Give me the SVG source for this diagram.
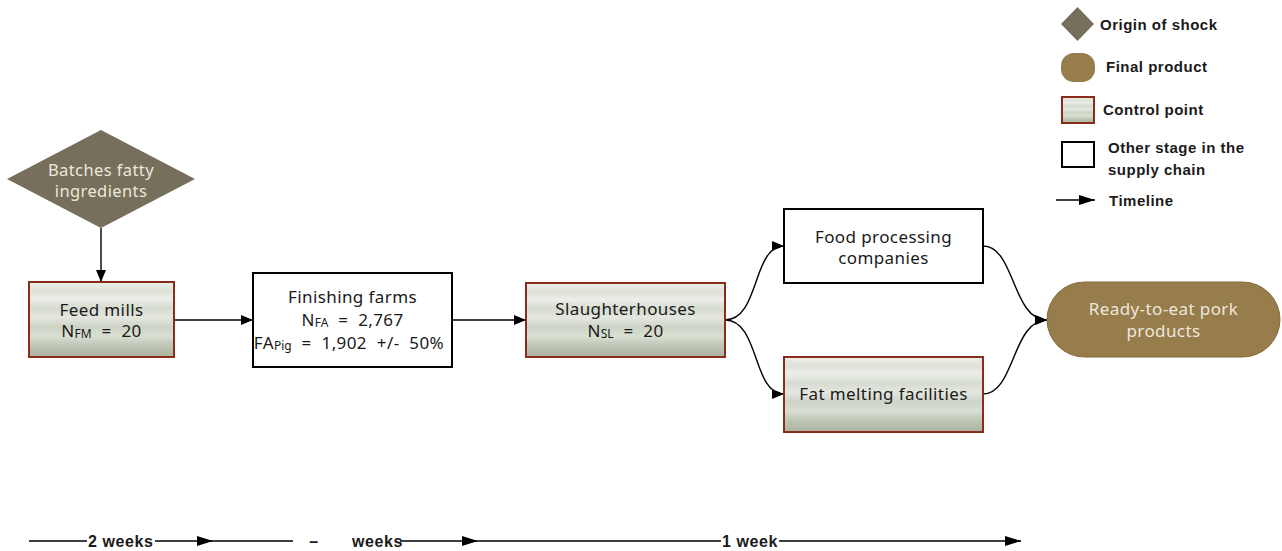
<svg xmlns="http://www.w3.org/2000/svg" width="1282" height="551" viewBox="0 0 1282 551">
<defs>
<linearGradient id="cp" x1="0" y1="0" x2="0" y2="1">
<stop offset="0" stop-color="#eef0ea"/>
<stop offset="0.12" stop-color="#dde1d7"/>
<stop offset="0.22" stop-color="#eceee8"/>
<stop offset="0.35" stop-color="#d6dbd0"/>
<stop offset="0.47" stop-color="#e4e7df"/>
<stop offset="0.6" stop-color="#cdd3c5"/>
<stop offset="0.72" stop-color="#dadfd3"/>
<stop offset="0.85" stop-color="#bec5b4"/>
<stop offset="1" stop-color="#aab2a0"/>
</linearGradient>
<marker id="ah" viewBox="0 0 12 10" refX="12" refY="5" markerWidth="12" markerHeight="10" markerUnits="userSpaceOnUse" orient="auto">
<path d="M0,0 L12,5 L0,10 Z" fill="#000"/>
</marker>
<marker id="ahs" viewBox="0 0 16 10" refX="16" refY="5" markerWidth="16" markerHeight="10" markerUnits="userSpaceOnUse" orient="auto">
<path d="M0,0 L16,5 L0,10 Z" fill="#000"/>
</marker>
</defs>
<style>
.node{font-family:"Noto Sans","Open Sans",sans-serif;font-size:17px;letter-spacing:0.4px;text-anchor:middle;fill:#1a1a1a}
.eq{word-spacing:5px}
.light{fill:#ece8dc}
.sub{font-size:12px;letter-spacing:0}
.cp{fill:url(#cp);stroke:#8a2c1c;stroke-width:2}
.other{fill:#fff;stroke:#000;stroke-width:2}
.shock{fill:#766f5b}
.prod{fill:#977c4c;stroke:#85693b;stroke-width:1}
.conn{fill:none;stroke:#000;stroke-width:1.4}
.leg{font-family:"Liberation Sans",Arial,sans-serif;font-weight:bold;font-size:15px;letter-spacing:0.5px;fill:#1a1a1a}
.tl{font-family:"Liberation Sans",Arial,sans-serif;font-weight:bold;font-size:16px;letter-spacing:0.6px;fill:#1a1a1a}
</style>
<rect width="1282" height="551" fill="#fff"/>

<g id="connectors">
<path class="conn" d="M101,228 L101,282" marker-end="url(#ah)"/>
<path class="conn" d="M174,320 L253,320" marker-end="url(#ah)"/>
<path class="conn" d="M452,320 L526,320" marker-end="url(#ah)"/>
<path class="conn" d="M725,320 C760,320 752,246 784,246" marker-end="url(#ah)"/>
<path class="conn" d="M725,320 C760,320 752,394 784,394" marker-end="url(#ah)"/>
<path class="conn" d="M983,246 C1015,246 1012,320 1047,320" marker-end="url(#ah)"/>
<path class="conn" d="M983,394 C1015,394 1012,320 1047,320" marker-end="url(#ah)"/>
</g>

<g id="batches">
<polygon class="shock" points="101,130 195,179 101,228 7,179"/>
<text class="node light" x="101" y="176" style="font-size:16.5px">Batches fatty</text>
<text class="node light" x="101" y="197" style="font-size:16.5px">ingredients</text>
</g>

<g id="feed-mills">
<rect class="cp" x="29" y="282" width="145" height="75"/>
<text class="node" x="101.5" y="316">Feed mills</text>
<text class="node eq" x="101.5" y="337">N<tspan class="sub" dy="1">FM</tspan><tspan dy="-1"> = 20</tspan></text>
</g>

<g id="finishing-farms">
<rect class="other" x="253" y="273" width="199" height="94"/>
<text class="node" x="352.5" y="303">Finishing farms</text>
<text class="node eq" x="352.5" y="326">N<tspan class="sub" dy="1">FA</tspan><tspan dy="-1"> = 2,767</tspan></text>
<text class="node eq" x="349" y="349">FA<tspan class="sub" dy="1">Pig</tspan><tspan dy="-1"> = 1,902 +/- 50%</tspan></text>
</g>

<g id="slaughterhouses">
<rect class="cp" x="526" y="283" width="199" height="74"/>
<text class="node" x="625.5" y="315">Slaughterhouses</text>
<text class="node eq" x="625.5" y="337">N<tspan class="sub" dy="1">SL</tspan><tspan dy="-1"> = 20</tspan></text>
</g>

<g id="food-processing">
<rect class="other" x="784" y="209" width="199" height="74"/>
<text class="node" x="883.5" y="243">Food processing</text>
<text class="node" x="883.5" y="264">companies</text>
</g>

<g id="fat-melting">
<rect class="cp" x="784" y="357" width="199" height="75"/>
<text class="node" x="883.5" y="400">Fat melting facilities</text>
</g>

<g id="ready-to-eat">
<rect class="prod" x="1047" y="282" width="233" height="75" rx="37.5" ry="37.5"/>
<text class="node light" x="1163.5" y="315">Ready-to-eat pork</text>
<text class="node light" x="1163.5" y="337">products</text>
</g>

<g id="legend">
<polygon class="shock" points="1077.5,7 1094,24 1077.5,41 1061,24"/>
<text class="leg" x="1100" y="30">Origin of shock</text>
<rect x="1061" y="53" width="34" height="29" rx="13" ry="13" fill="#977c4c"/>
<text class="leg" x="1106" y="72">Final product</text>
<rect class="cp" x="1062" y="97" width="32" height="26"/>
<text class="leg" x="1103" y="115">Control point</text>
<rect class="other" x="1062" y="142" width="32" height="25"/>
<text class="leg" x="1108" y="153">Other stage in the</text>
<text class="leg" x="1108" y="175">supply chain</text>
<path class="conn" d="M1056,200 L1095,200" marker-end="url(#ahs)"/>
<text class="leg" x="1109" y="206">Timeline</text>
</g>

<g id="timeline">
<path class="conn" d="M29,541 L87,541"/>
<text class="tl" x="88" y="547">2 weeks</text>
<path class="conn" d="M155,541 L213,541" marker-end="url(#ahs)"/>
<path class="conn" d="M213,541 L293,541"/>
<text class="tl" x="314" y="547" text-anchor="middle">–</text>
<text class="tl" x="352" y="547">weeks</text>
<path class="conn" d="M400,541 L478,541" marker-end="url(#ahs)"/>
<path class="conn" d="M478,541 L721,541"/>
<text class="tl" x="722" y="547">1 week</text>
<path class="conn" d="M779,541 L1021,541" marker-end="url(#ahs)"/>
</g>
</svg>
